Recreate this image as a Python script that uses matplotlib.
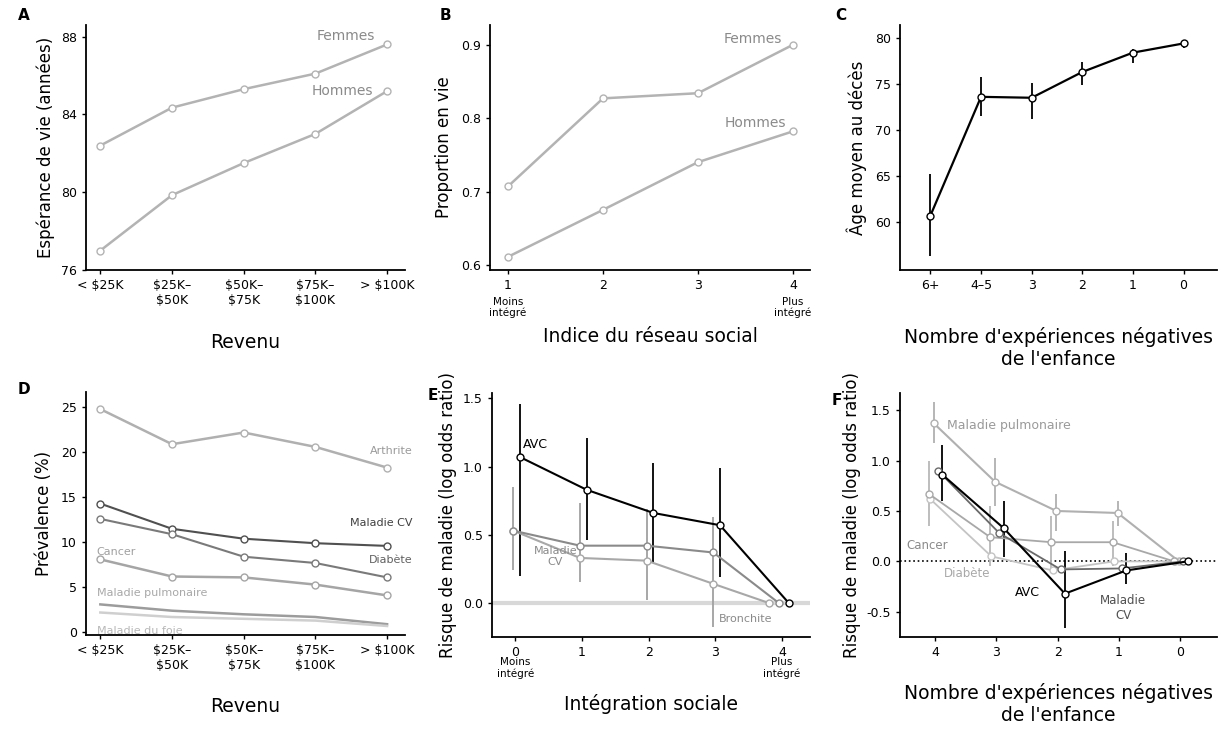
import matplotlib
matplotlib.use("Agg")
import matplotlib.pyplot as plt
import numpy as np

plt.rcParams['font.family'] = ['DejaVu Sans']

# ---- A : espérance de vie selon le revenu
revenu_labels = ["< $25K", "$25K–\n$50K", "$50K–\n$75K", "$75K–\n$100K", "> $100K"]
a_femmes = [82.4, 84.35, 85.3, 86.1, 87.6]
a_hommes = [77.0, 79.85, 81.5, 83.0, 85.2]

# ---- B : proportion en vie selon le réseau social
b_x = [1, 2, 3, 4]
b_femmes = [0.707, 0.827, 0.834, 0.900]
b_hommes = [0.611, 0.675, 0.740, 0.782]

# ---- C : âge moyen au décès selon les expériences négatives
c_labels = ["6+", "4–5", "3", "2", "1", "0"]
c_moy = [60.7, 73.6, 73.5, 76.3, 78.4, 79.4]
c_bas = [56.3, 71.5, 71.2, 74.9, 77.3, 78.9]
c_haut = [65.2, 75.8, 75.1, 77.4, 78.8, 79.8]

# ---- D : prévalence selon le revenu
d_arthrite = [24.8, 20.9, 22.2, 20.6, 18.3]
d_maladie_cv = [14.3, 11.5, 10.4, 9.9, 9.6]
d_diabete = [12.6, 10.9, 8.4, 7.7, 6.1]
d_cancer = [8.1, 6.2, 6.1, 5.3, 4.1]
d_pulmonaire = [3.1, 2.4, 2.0, 1.7, 0.9]
d_foie = [2.2, 1.7, 1.5, 1.3, 0.7]

# ---- E : risque de maladie selon l'intégration sociale
e_x = [0, 1, 2, 3, 4]
e_avc = [1.07, 0.83, 0.66, 0.57, 0.0]
e_avc_bas = [0.20, 0.46, 0.29, 0.19]
e_avc_haut = [1.46, 1.21, 1.03, 0.99]
e_mcv = [0.53, 0.42, 0.42, 0.37, 0.0]
e_mcv_bas = [0.24, 0.15, 0.02, -0.18]
e_mcv_haut = [0.85, 0.73, 0.69, 0.63]
e_bronchite = [0.53, 0.33, 0.31, 0.14, 0.0]

# ---- F : risque de maladie selon les expériences négatives
f_x = [4, 3, 2, 1, 0]
f_pulmonaire = [1.37, 0.79, 0.50, 0.48, 0.0]
f_pulm_bas = [1.17, 0.55, 0.30, 0.35]
f_pulm_haut = [1.58, 1.03, 0.67, 0.60]
f_avc = [0.86, 0.33, -0.32, -0.09, 0.0]
f_avc_bas = [0.60, 0.04, -0.66, -0.22]
f_avc_haut = [1.15, 0.60, 0.10, 0.08]
f_mcv = [0.90, 0.28, -0.08, -0.07, 0.0]
f_cancer = [0.67, 0.24, 0.19, 0.19, 0.0]
f_cancer_bas = [0.35, -0.05, -0.1, -0.05]
f_cancer_haut = [1.0, 0.55, 0.45, 0.4]
f_diabete = [0.62, 0.05, -0.09, 0.0, 0.0]

GRIS = "#b3b3b3"
TXT = "#8a8a8a"
XL = 13.5   # taille des titres d'axe x
YL = 12     # taille des titres d'axe y


def style(ax):
    for s in ["top", "right"]:
        ax.spines[s].set_visible(False)
    ax.spines["left"].set_linewidth(1.3)
    ax.spines["bottom"].set_linewidth(1.3)
    ax.tick_params(labelsize=9, length=3, width=1)


def ligne(ax, x, y, c, lw=1.8, ms=5):
    ax.plot(x, y, "-o", color=c, lw=lw, ms=ms, mfc="white", mec=c, mew=1, zorder=3)


def pos(l, b, r, t):
    W, H = 1227, 732
    return [l / W, 1 - b / H, (r - l) / W, (b - t) / H]


fig = plt.figure(figsize=(12.27, 7.32), dpi=100)

# ===== A
ax = fig.add_axes(pos(86, 270, 405, 25))
style(ax)
xr = np.arange(len(revenu_labels))
ligne(ax, xr, a_femmes, GRIS)
ligne(ax, xr, a_hommes, GRIS)
ax.set_xlim(-0.2, 4.25)
ax.set_ylim(76, 88.6)
ax.set_yticks([76, 80, 84, 88])
ax.set_xticks(xr)
ax.set_xticklabels(revenu_labels)
ax.text(3.43, 88.05, "Femmes", color=TXT, fontsize=10, ha="center", va="center")
ax.text(3.37, 85.2, "Hommes", color=TXT, fontsize=10, ha="center", va="center")
ax.set_ylabel("Espérance de vie (années)", fontsize=YL, labelpad=4)
ax.set_xlabel("Revenu", fontsize=XL, labelpad=19)
fig.text(18 / 1227, 1 - 15 / 732, "A", fontsize=11, fontweight="bold", va="center")

# ===== B
ax = fig.add_axes(pos(490, 270, 810, 25))
style(ax)
ligne(ax, b_x, b_femmes, GRIS)
ligne(ax, b_x, b_hommes, GRIS)
ax.set_xlim(0.81, 4.18)
ax.set_ylim(0.593, 0.927)
ax.set_yticks([0.6, 0.7, 0.8, 0.9])
ax.set_xticks(b_x)
ax.text(3.58, 0.908, "Femmes", color=TXT, fontsize=10, ha="center", va="center")
ax.text(3.6, 0.794, "Hommes", color=TXT, fontsize=10, ha="center", va="center")
ax.text(1, 0.556, "Moins\nintégré", fontsize=7.5, ha="center", va="top", linespacing=1.1)
ax.text(4, 0.556, "Plus\nintégré", fontsize=7.5, ha="center", va="top", linespacing=1.1)
ax.set_ylabel("Proportion en vie", fontsize=YL, labelpad=6)
ax.set_xlabel("Indice du réseau social", fontsize=XL, labelpad=25)
fig.text(440 / 1227, 1 - 15 / 732, "B", fontsize=11, fontweight="bold", va="center")

# ===== C
ax = fig.add_axes(pos(900, 270, 1217, 25))
style(ax)
xc = np.arange(len(c_labels))
ax.vlines(xc, c_bas, c_haut, color="black", lw=1.3, zorder=2)
ligne(ax, xc, c_moy, "black", lw=1.6)
ax.set_xlim(-0.6, 5.66)
ax.set_ylim(54.8, 81.4)
ax.set_yticks([60, 65, 70, 75, 80])
ax.set_xticks(xc)
ax.set_xticklabels(c_labels)
ax.set_ylabel("Âge moyen au décès", fontsize=YL, labelpad=6)
ax.set_xlabel("Nombre d'expériences négatives\nde l'enfance", fontsize=XL, labelpad=25)
fig.text(835 / 1227, 1 - 15 / 732, "C", fontsize=11, fontweight="bold", va="center")

# ===== D
ax = fig.add_axes(pos(86, 635, 405, 392))
style(ax)
ligne(ax, xr, d_arthrite, "#b0b0b0")
ligne(ax, xr, d_maladie_cv, "#505050", lw=1.5)
ligne(ax, xr, d_diabete, "#7a7a7a", lw=1.5)
ligne(ax, xr, d_cancer, "#a5a5a5")
ligne(ax, xr, d_pulmonaire, "#9c9c9c", ms=0)
ligne(ax, xr, d_foie, "#cfcfcf", ms=0)
ax.set_xlim(-0.2, 4.25)
ax.set_ylim(-0.3, 26.7)
ax.set_yticks([0, 5, 10, 15, 20, 25])
ax.set_xticks(xr)
ax.set_xticklabels(revenu_labels)
for txt, yy, c, x0, ha in [("Arthrite", 20.2, "#9a9a9a", 4.35, "right"),
                           ("Maladie CV", 12.1, "#404040", 4.35, "right"),
                           ("Diabète", 8.0, "#606060", 4.35, "right"),
                           ("Cancer", 8.9, "#a0a0a0", -0.05, "left"),
                           ("Maladie pulmonaire", 4.4, "#a8a8a8", -0.05, "left"),
                           ("Maladie du foie", 0.2, "#b8b8b8", -0.05, "left")]:
    ax.text(x0, yy, txt, color=c, fontsize=8, ha=ha, va="center", clip_on=False)
ax.set_ylabel("Prévalence (%)", fontsize=YL, labelpad=6)
ax.set_xlabel("Revenu", fontsize=XL, labelpad=18)
fig.text(18 / 1227, 1 - 390 / 732, "D", fontsize=11, fontweight="bold", va="center")

# ===== E
ax = fig.add_axes(pos(492, 637, 810, 393))
style(ax)
ax.axhline(0, color="#d8d8d8", lw=3, zorder=1)
ex = np.array(e_x, dtype=float)
ax.vlines(ex[:4] - 0.03, e_mcv_bas, e_mcv_haut, color="#a0a0a0", lw=1.3, zorder=2)
ax.vlines(ex[:4] + 0.07, e_avc_bas, e_avc_haut, color="black", lw=1.3, zorder=2)
ligne(ax, [-0.03, 0.97, 1.97, 2.97, 3.8], e_bronchite, "#a8a8a8", lw=1.5)
ligne(ax, [-0.03, 0.97, 1.97, 2.97, 3.95], e_mcv, "#8a8a8a", lw=1.5)
ligne(ax, [0.07, 1.07, 2.07, 3.07, 4.1], e_avc, "black", lw=1.5)
ax.set_xlim(-0.35, 4.42)
ax.set_ylim(-0.25, 1.54)
ax.set_yticks([0.0, 0.5, 1.0, 1.5])
ax.set_yticklabels(["0.0", "0.5", "1.0", "1.5"])
ax.set_xticks(e_x)
ax.text(0.3, 1.16, "AVC", fontsize=9, ha="center", va="center")
ax.text(0.6, 0.34, "Maladie\nCV", fontsize=8, color="#8a8a8a", ha="center", va="center")
ax.text(3.45, -0.12, "Bronchite", fontsize=8, color="#8a8a8a", ha="center", va="center")
ax.text(0, -0.40, "Moins\nintégré", fontsize=7.5, ha="center", va="top", linespacing=1.1)
ax.text(4, -0.40, "Plus\nintégré", fontsize=7.5, ha="center", va="top", linespacing=1.1)
ax.set_ylabel("Risque de maladie (log odds ratio)", fontsize=YL, labelpad=4)
ax.set_xlabel("Intégration sociale", fontsize=XL, labelpad=25)
fig.text(428 / 1227, 1 - 395 / 732, "E", fontsize=11, fontweight="bold", va="center")

# ===== F
ax = fig.add_axes(pos(900, 637, 1217, 393))
style(ax)
ax.axhline(0, color="black", lw=1.2, ls=":", zorder=1)
fx = np.array(f_x, dtype=float)
ax.vlines(fx[:4] + 0.02, f_pulm_bas, f_pulm_haut, color="#b0b0b0", lw=1.3, zorder=2)
ax.vlines(fx[:4] + 0.1, f_cancer_bas, f_cancer_haut, color="#b8b8b8", lw=1.3, zorder=2)
ax.vlines(fx[:4] - 0.12, f_avc_bas, f_avc_haut, color="black", lw=1.3, zorder=2)
ligne(ax, fx + 0.02, f_pulmonaire, "#b0b0b0", lw=1.5)
ligne(ax, fx + 0.08, f_diabete, "#c4c4c4", lw=1.3)
ligne(ax, fx + 0.1, f_cancer, "#a8a8a8", lw=1.3)
ligne(ax, fx - 0.05, f_mcv, "#6a6a6a", lw=1.3)
ligne(ax, fx - 0.12, f_avc, "black", lw=1.5)
ax.set_xlim(4.57, -0.6)
ax.set_ylim(-0.75, 1.67)
ax.set_yticks([-0.5, 0.0, 0.5, 1.0, 1.5])
ax.set_yticklabels(["-0.5", "0.0", "0.5", "1.0", "1.5"])
ax.set_xticks(f_x)
ax.text(3.8, 1.35, "Maladie pulmonaire", fontsize=9, color="#9a9a9a", ha="left", va="center")
ax.text(4.13, 0.16, "Cancer", fontsize=8.5, color="#8a8a8a", ha="center", va="center")
ax.text(3.48, -0.12, "Diabète", fontsize=8.5, color="#a8a8a8", ha="center", va="center")
ax.text(2.5, -0.31, "AVC", fontsize=9, ha="center", va="center")
ax.text(0.93, -0.46, "Maladie\nCV", fontsize=8.5, color="#505050", ha="center", va="center")
ax.set_ylabel("Risque de maladie (log odds ratio)", fontsize=YL, labelpad=4)
ax.set_xlabel("Nombre d'expériences négatives\nde l'enfance", fontsize=XL, labelpad=17)
fig.text(832 / 1227, 1 - 400 / 732, "F", fontsize=11, fontweight="bold", va="center")

fig.savefig("out.png", dpi=100, facecolor="white")
